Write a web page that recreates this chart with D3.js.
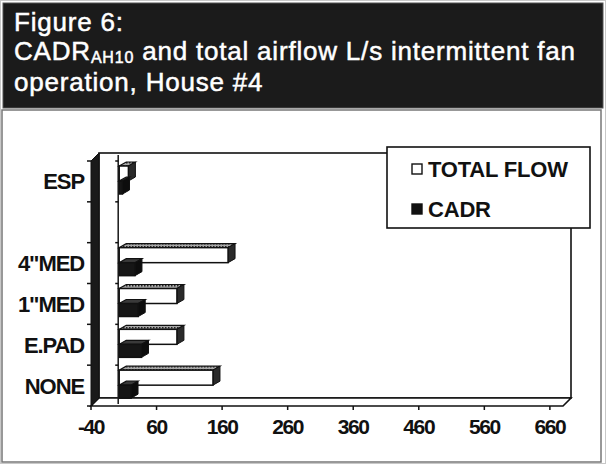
<!DOCTYPE html>
<html>
<head>
<meta charset="utf-8">
<script src="https://cdn.jsdelivr.net/npm/d3@7"></script>
<style>
  html,body{margin:0;padding:0;background:#fff;}
  svg{display:block;font-family:"Liberation Sans",Arial,Helvetica,sans-serif;}
</style>
</head>
<body>
<div id="chart"></div>
<script>
// ── data ─────────────────────────────────────────
const CATEGORIES = ["NONE","E.PAD","1\"MED","4\"MED","","ESP"];
const TOTAL_FLOW = [143, 88, 88, 166, null, 14];
const CADR       = [18, 34, 29, 24, null, 5];
const X_TICKS    = [-40, 60, 160, 260, 360, 460, 560, 660];
const SERIES_NAMES = ["TOTAL FLOW","CADR"];

const W = 606, H = 464;
const DX = 8, DY = -8;          // 3D wall depth
const BX = 7, BY = -4;          // bar extrusion

const svg = d3.select("#chart").append("svg").attr("width",W).attr("height",H);

// frame + title panel
svg.append("rect").attr("x",0.5).attr("y",0.5).attr("width",W-1).attr("height",H-1)
  .attr("fill","#fff").attr("stroke","#c8c8c8");
svg.append("rect").attr("x",2).attr("y",110).attr("width",599).attr("height",352)
  .attr("fill","#fff").attr("stroke","#777").attr("stroke-width",1.5);
svg.append("rect").attr("x",3).attr("y",3).attr("width",600).attr("height",105)
  .attr("fill","#1b1b1b").attr("stroke","#555");

const title = svg.append("g").attr("fill","#fff").attr("stroke","#fff").attr("stroke-width",0.5)
  .attr("font-size",26).attr("letter-spacing",0.8);
title.append("text").attr("x",14).attr("y",31).text("Figure 6:");
const t2 = title.append("text").attr("x",14).attr("y",60);
t2.append("tspan").text("CADR");
t2.append("tspan").attr("font-size",16).attr("dy",3).text("AH10");
t2.append("tspan").attr("dy",-3).text(" and total airflow L/s intermittent fan");
title.append("text").attr("x",14).attr("y",91).text("operation, House #4");

// ── scales ───────────────────────────────────────
const x = d3.scaleLinear().domain([-40,680]).range([91,563]);
const y = d3.scaleBand().domain(d3.range(CATEGORIES.length).reverse()).range([161,406]);
const pts = a => a.map(p=>p.join(",")).join(" ");

const g = svg.append("g");

// back wall
g.append("rect").attr("x",x(-40)+DX).attr("y",161+DY).attr("width",x(680)-x(-40)).attr("height",406-161)
  .attr("fill","#fff").attr("stroke","#111").attr("stroke-width",1.6);
// floor
g.append("polygon")
  .attr("points",pts([[x(-40),406],[x(680),406],[x(680)+DX,406+DY],[x(-40)+DX,406+DY]]))
  .attr("fill","#fff").attr("stroke","#111").attr("stroke-width",1.6);
// left wall
g.append("polygon")
  .attr("points",pts([[x(-40),406],[x(-40),161],[x(-40)+DX,161+DY],[x(-40)+DX,406+DY]]))
  .attr("fill","#1a1a1a").attr("stroke","#111");

// category ticks on the wall
const bounds = d3.range(CATEGORIES.length+1).map(i=>161+i*y.step());
g.selectAll(".yt").data(bounds).join("line").attr("class","yt")
  .attr("x1",x(-40)-4).attr("x2",x(-40)).attr("y1",d=>d).attr("y2",d=>d)
  .attr("stroke","#111").attr("stroke-width",1.5);

// zero line
g.append("line").attr("x1",x(0)+1).attr("x2",x(0)+1).attr("y1",161+DY+2).attr("y2",404)
  .attr("stroke","#222").attr("stroke-width",1.6);
g.selectAll(".zt").data(bounds.slice(0,-1)).join("line").attr("class","zt")
  .attr("x1",x(0)-2).attr("x2",x(0)+1).attr("y1",d=>d).attr("y2",d=>d)
  .attr("stroke","#111").attr("stroke-width",1.5);

// pattern for top faces of the flow bars
const defs = svg.append("defs");
const pat = defs.append("pattern").attr("id","dots").attr("width",3).attr("height",3)
  .attr("patternUnits","userSpaceOnUse");
pat.append("rect").attr("width",3).attr("height",3).attr("fill","#a8a8a8");
pat.append("rect").attr("width",1.5).attr("height",1.5).attr("fill","#222");

// ── bars ─────────────────────────────────────────
const SERIES = [
  {name:SERIES_NAMES[0], vals:TOTAL_FLOW, off:5,  h:15, front:"#fff",    top:"url(#dots)", side:"#2a2a2a"},
  {name:SERIES_NAMES[1], vals:CADR,       off:20, h:13, front:"#161616", top:"#3a3a3a",    side:"#0d0d0d"}
];
SERIES.forEach(s=>{
  const bars = g.append("g").selectAll("g").data(s.vals.map((v,i)=>({v,i})).filter(d=>d.v!=null))
    .join("g");
  const x0 = d=>x(0)+2, x1 = d=>x(d.v)+2;
  const y0 = d=>y(d.i)+s.off, y1 = d=>y(d.i)+s.off+s.h;
  bars.append("polygon") // top
    .attr("points",d=>pts([[x0(d),y0(d)],[x1(d),y0(d)],[x1(d)+BX,y0(d)+BY],[x0(d)+BX,y0(d)+BY]]))
    .attr("fill",s.top).attr("stroke","#111").attr("stroke-width",1.2);
  bars.append("polygon") // side
    .attr("points",d=>pts([[x1(d),y0(d)],[x1(d)+BX,y0(d)+BY],[x1(d)+BX,y1(d)+BY],[x1(d),y1(d)]]))
    .attr("fill",s.side).attr("stroke","#111").attr("stroke-width",1);
  bars.append("rect") // front
    .attr("x",x0).attr("y",y0).attr("width",d=>x1(d)-x0(d)).attr("height",s.h)
    .attr("fill",s.front).attr("stroke","#111").attr("stroke-width",1.5);
});

// ── axes labels ──────────────────────────────────
g.selectAll(".xt").data(X_TICKS).join("line").attr("class","xt")
  .attr("x1",d=>x(d)).attr("x2",d=>x(d)).attr("y1",406).attr("y2",410)
  .attr("stroke","#111").attr("stroke-width",1.5);
g.selectAll(".xl").data(X_TICKS).join("text").attr("class","xl")
  .attr("x",d=>x(d)).attr("y",434).attr("text-anchor","middle")
  .attr("font-size",21).attr("font-weight","bold").attr("letter-spacing",-1.4).attr("fill","#111")
  .text(d=>d);
g.selectAll(".yl").data(CATEGORIES).join("text").attr("class","yl")
  .attr("x",84).attr("y",(d,i)=>y(i)+y.bandwidth()/2+8).attr("text-anchor","end")
  .attr("font-size",22).attr("font-weight","bold").attr("letter-spacing",-1.1).attr("fill","#111")
  .text(d=>d);

// ── legend ───────────────────────────────────────
const lg = svg.append("g");
lg.append("rect").attr("x",387).attr("y",147).attr("width",203).attr("height",81)
  .attr("fill","#fff").attr("stroke","#111").attr("stroke-width",1.6);
SERIES_NAMES.forEach((n,i)=>{
  const yy = 169 + i*40;
  lg.append("rect").attr("x",412).attr("y",yy-5).attr("width",10).attr("height",10)
    .attr("fill",i?"#111":"#fff").attr("stroke","#111").attr("stroke-width",1.4);
  lg.append("text").attr("x",428).attr("y",yy+8).attr("font-size",22).attr("font-weight","bold")
    .attr("letter-spacing",-0.2).attr("fill","#111").text(n);
});
</script>
</body>
</html>
